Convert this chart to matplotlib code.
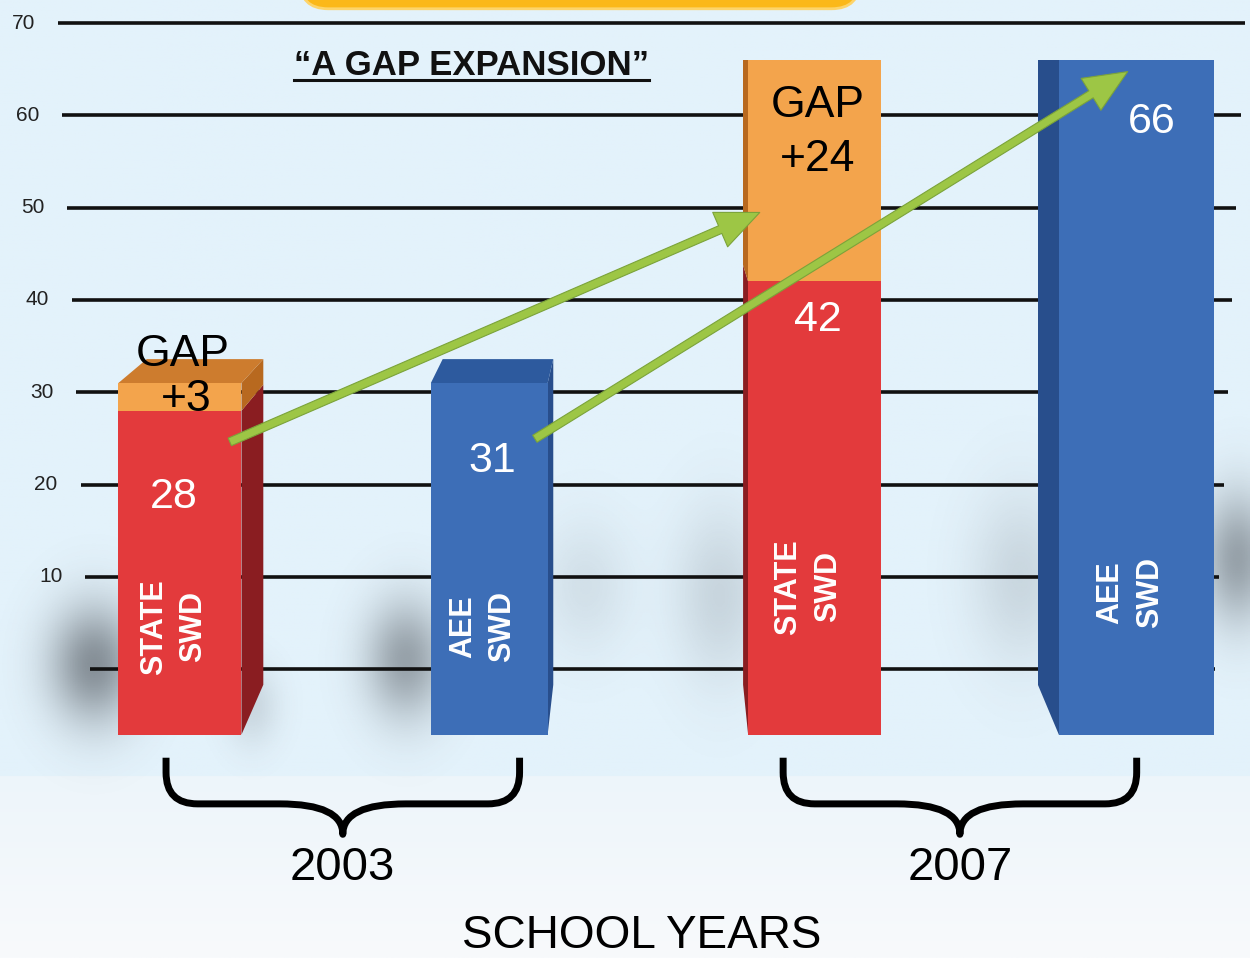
import numpy as np
import matplotlib.pyplot as plt
from matplotlib.patches import Polygon, FancyBboxPatch, FancyArrowPatch, PathPatch
from matplotlib.path import Path
from matplotlib.colors import to_rgb

plt.rcParams['font.family'] = ['Liberation Sans', 'DejaVu Sans']

# valeurs
years = ['2003', '2007']
state_swd = [28, 42]
aee_swd = [31, 66]
gap = [3, 24]
bar_names = ['STATE\nSWD', 'AEE\nSWD', 'STATE\nSWD', 'AEE\nSWD']
grid_levels = [0, 10, 20, 30, 40, 50, 60, 70]
tick_labels = ['', '10', '20', '30', '40', '50', '60', '70']

# couleurs
BG_TOP, BG_LOW, BG_BOTTOM = '#E3F2FB', '#EDF5FA', '#F8FAFC'
RED, RED_SIDE = '#E33A3C', '#8A1D21'
ORANGE, ORANGE_SIDE, ORANGE_TOP = '#F3A44C', '#B8691F', '#CD7C2E'
BLUE, BLUE_SIDE, BLUE_TOP = '#3D6EB7', '#284E8C', '#2D5A9E'
GREEN, GREEN_EDGE = '#9DC645', '#7BA33A'

fig = plt.figure(figsize=(12.5, 9.58), dpi=100)
ax = fig.add_axes([0, 0, 1, 1])
XMIN, XMAX = -0.57, 3.39
YMIN, YMAX = -31.3, 72.5
ax.set_xlim(XMIN, XMAX)
ax.set_ylim(YMIN, YMAX)
ax.axis('off')
aspect = (1250 / (XMAX - XMIN)) / (958 / (YMAX - YMIN))

# fond
yy = np.linspace(YMAX, YMIN, 600)
c_top, c_low, c_bot = [np.array(to_rgb(c)) for c in (BG_TOP, BG_LOW, BG_BOTTOM)]
t = np.clip((-11.6 - yy) / (-11.6 - YMIN), 0, 1)[:, None]
col = np.where(yy[:, None] > -11.6, c_top, c_low * (1 - t) + c_bot * t)
ax.imshow(np.repeat(col[:, None, :], 4, axis=1), extent=[XMIN, XMAX, YMIN, YMAX],
          aspect='auto', zorder=0)

# position des barres
xpos = np.array([0.0, 0.98, 2.01, 3.03])
widths = np.array([0.39, 0.37, 0.42, 0.49])
BASE = -7.1
xs = xpos[[0, 2]]
xa = xpos[[1, 3]]
L = xpos - widths / 2
R = xpos + widths / 2

# ombres floues derriere les barres
gx, gy = np.meshgrid(np.linspace(XMIN, XMAX, 500), np.linspace(YMAX, YMIN, 500))
shade = np.ones_like(gx)
blobs = [(L[0] - 0.08, 0.5, 0.1, 4.5, 0.55), (R[0] + 0.03, -4.0, 0.06, 3.0, 0.15),
         (L[1] - 0.08, 1.0, 0.09, 4.5, 0.45), (R[1] + 0.12, 9.0, 0.1, 5.0, 0.1),
         (L[2] - 0.09, 8.0, 0.1, 6.5, 0.16), (L[3] - 0.12, 10.0, 0.11, 6.5, 0.15),
         (R[3] + 0.08, 12.0, 0.08, 5.0, 0.45)]
for bx, by, sx, sy, a in blobs:
    shade *= 1 - a * np.exp(-((gx - bx) / sx) ** 2 / 2 - ((gy - by) / sy) ** 2 / 2)
rgba = np.zeros(gx.shape + (4,))
rgba[..., :3] = to_rgb('#3A3F46')
rgba[..., 3] = 1 - shade
ax.imshow(rgba, extent=[XMIN, XMAX, YMIN, YMAX], aspect='auto', zorder=1)

# lignes horizontales (un peu en perspective)
for v, lab in zip(grid_levels, tick_labels):
    left = -0.285 - 0.00145 * v
    right = 3.279 + 0.00136 * v
    ax.hlines(v, left, right, color='#111111', lw=2.6, zorder=2)
    if lab:
        ax.text(left - 0.11, v, lab, ha='center', va='center', fontsize=15,
                color='#222222', zorder=6)

# faces laterales et dessus (point de fuite)
VPX, VPY = 1.5, 66
FX, FY = 0.053, 0.074


def back(x, y):
    return x + FX * (VPX - x), y + FY * (VPY - y)


def faces(i, y0, y1, side_col, top_col=None):
    l, r = L[i], R[i]
    xe = r if VPX > r else (l if VPX < l else None)
    if xe is not None:
        pts = [(xe, y0), (xe, y1), back(xe, y1), back(xe, y0)]
        ax.add_patch(Polygon(pts, closed=True, fc=side_col, ec='none', zorder=3))
    if top_col is not None and VPY > y1:
        pts = [(l, y1), (r, y1), back(r, y1), back(l, y1)]
        ax.add_patch(Polygon(pts, closed=True, fc=top_col, ec='none', zorder=3))


for k, i in enumerate([0, 2]):
    faces(i, BASE, state_swd[k], RED_SIDE)
    faces(i, state_swd[k], state_swd[k] + gap[k], ORANGE_SIDE, ORANGE_TOP)
for k, i in enumerate([1, 3]):
    faces(i, BASE, aee_swd[k], BLUE_SIDE, BLUE_TOP)

# faces avant
ax.bar(xs, np.array(state_swd) - BASE, bottom=BASE, width=widths[[0, 2]],
       color=RED, zorder=4)
ax.bar(xs, gap, bottom=state_swd, width=widths[[0, 2]], color=ORANGE, zorder=4)
ax.bar(xa, np.array(aee_swd) - BASE, bottom=BASE, width=widths[[1, 3]],
       color=BLUE, zorder=4)

# fleches vertes
arrows = [((0.15, 24.5), (1.845, 49.6)), ((1.117, 24.8), (3.01, 64.9))]
for a, b in arrows:
    ax.add_patch(FancyArrowPatch(a, b, arrowstyle='simple,tail_width=0.22,head_width=1.0,head_length=1.15',
                                 mutation_scale=27, fc=GREEN, ec=GREEN_EDGE, lw=0.8, zorder=5))

# etiquettes des barres
values = [state_swd[0], aee_swd[0], state_swd[1], aee_swd[1]]
val_dy = [-9.4, -8.5, -4.2, -6.7]
val_dx = [-0.02, 0.01, 0.01, 0.05]
for i, v in enumerate(values):
    ax.text(xpos[i] + val_dx[i], v + val_dy[i], str(v), ha='center', va='center',
            fontsize=31, color='white', zorder=6)
name_y = [4.6, 4.6, 8.9, 8.3]
for i, name in enumerate(bar_names):
    ax.text(xpos[i] - 0.02, name_y[i], name, rotation=90, ha='center', va='center',
            multialignment='center', fontsize=22, fontweight='bold', color='white',
            linespacing=1.4, zorder=6)

# GAP
top0 = state_swd[0] + gap[0]
ax.text(xpos[0] + 0.01, top0 + 3.1, 'GAP', ha='center', va='center', fontsize=32, zorder=6)
ax.text(xpos[0] + 0.02, state_swd[0] + gap[0] / 2 - 0.3, '+%d' % gap[0], ha='center',
        va='center', fontsize=32, zorder=6)
top1 = state_swd[1] + gap[1]
ax.text(xpos[2] + 0.01, top1 - 4.9, 'GAP', ha='center', va='center', fontsize=32, zorder=6)
ax.text(xpos[2] + 0.01, top1 - 10.8, '+%d' % gap[1], ha='center', va='center',
        fontsize=32, zorder=6)

# accolades et annees
MOVETO, LINETO, CURVE3 = Path.MOVETO, Path.LINETO, Path.CURVE3
brace_dx = [0.026, -0.049]
for g, year in enumerate(years):
    xc = xpos[2 * g:2 * g + 2].mean() + brace_dx[g]
    xl, xr = xc - 0.56, xc + 0.56
    ytop, ymid, ytip = -9.6, -14.6, -17.9
    rx, ry, rx2 = 0.1, 3.4, 0.2
    verts = [(xl, ytop), (xl, ymid + ry), (xl, ymid), (xl + rx, ymid),
             (xc - rx2, ymid), (xc, ymid), (xc, ytip),
             (xc, ymid), (xc + rx2, ymid),
             (xr - rx, ymid), (xr, ymid), (xr, ymid + ry), (xr, ytop)]
    codes = [MOVETO, LINETO, CURVE3, CURVE3, LINETO, CURVE3, CURVE3,
             CURVE3, CURVE3, LINETO, CURVE3, CURVE3, LINETO]
    ax.add_patch(PathPatch(Path(verts, codes), fc='none', ec='black', lw=5,
                           joinstyle='round', zorder=6))
    ax.text(xc, -21.5, year, ha='center', va='center', fontsize=34, zorder=6)

ax.text(1.463, -28.9, 'SCHOOL YEARS', ha='center', va='center', fontsize=33, zorder=6)

# encadre jaune en haut (coupe)
ax.add_patch(FancyBboxPatch((0.38, 71.55), 1.774, 6, boxstyle='round,pad=0,rounding_size=0.09',
                            mutation_aspect=aspect, fc='#FBB819', ec='#FDD46A', lw=2,
                            zorder=5, clip_on=False))

# titre souligne
title = ax.text(0.925, 64.4, '\u201cA GAP EXPANSION\u201d', ha='center', va='baseline',
                fontsize=25, fontweight='bold', color='#111111', zorder=6)
fig.canvas.draw()
bb = title.get_window_extent(fig.canvas.get_renderer())
inv = ax.transData.inverted()
(ux0, uy0), (ux1, _) = inv.transform([(bb.x0, bb.y0), (bb.x1, bb.y0)])
ax.plot([ux0, ux1], [uy0 + 0.2, uy0 + 0.2], color='#111111', lw=2.2, zorder=6)

fig.savefig('out.png', dpi=100)
